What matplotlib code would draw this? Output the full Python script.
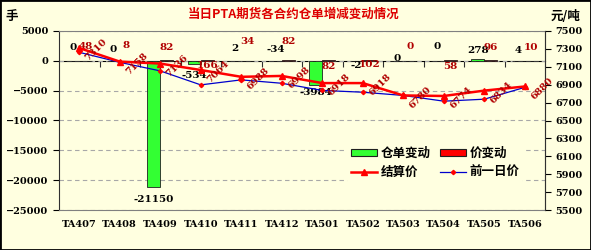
import matplotlib
matplotlib.use('Agg')
import matplotlib.pyplot as plt
from matplotlib.patches import Rectangle, Patch
from matplotlib.lines import Line2D
import numpy as np

plt.rcParams['font.family'] = ['Noto Sans CJK SC', 'DejaVu Sans']

contracts = ['TA407', 'TA408', 'TA409', 'TA410', 'TA411', 'TA412',
             'TA501', 'TA502', 'TA503', 'TA504', 'TA505', 'TA506']
stock_change = [0, 0, -21150, -534, 2, -34, -3984, -2, 0, 0, 278, 4]
price_change = [48, 8, 82, 166, 34, 82, 82, 102, 0, 58, 96, 10]
settle = [7310, 7158, 7136, 7064, 6988, 6998, 6918, 6918, 6780, 6774, 6834, 6880]
prev = [7262, 7150, 7054, 6898, 6954, 6916, 6836, 6816, 6780, 6716, 6738, 6870]

# label vertical offsets in pixels (style only)
stock_lbl_dy = [13, 11, -12, -11, 12, 12, -8, -5, 2, 14, 9, 10]
price_lbl_dy = [14, 15, 13, -6, 19, 19, -6, -4, 14, -6, 13, 13]

title = '当日PTA期货各合约仓单增减变动情况'
bg = '#FFFFE0'
green = '#33FF33'
red = '#FF0000'
dark_red = '#B00000'
num_font = ['DejaVu Serif']

fig = plt.figure(figsize=(5.91, 2.5), dpi=100, facecolor=bg)
ax = fig.add_axes([59 / 591, 40 / 250, (545 - 59) / 591, (210 - 31) / 250])
ax.set_facecolor(bg)

x = np.arange(len(contracts))
w = 0.32
ax.bar(x - w / 2, stock_change, w, color=green, edgecolor='#202020', linewidth=0.6, zorder=3)
ax.bar(x + w / 2, price_change, w, color=red, edgecolor='#202020', linewidth=0.6, zorder=3)

ax.set_xlim(-0.5, len(contracts) - 0.5)
ax.set_ylim(-25000, 5000)
ax.set_yticks(np.arange(-25000, 5001, 5000))
ax.yaxis.grid(True, linestyle=(0, (4, 3)), color='#A8A8A8', linewidth=0.8)
ax.set_axisbelow(True)
ax.set_xticks(x, contracts)
ax.tick_params(axis='x', length=0, pad=7)
ax.tick_params(axis='y', direction='out', length=4, width=0.8)
for lab in ax.get_xticklabels() + ax.get_yticklabels():
    lab.set_fontfamily(num_font)
    lab.set_fontweight('bold')
    lab.set_fontsize(7)
for s in ax.spines.values():
    s.set_color('#808080')
    s.set_linewidth(0.8)
ax.spines['left'].set_color('#303030')

# zero axis with category boundary ticks
zero_frac = (0 - (-25000)) / 30000
sec = ax.secondary_xaxis(zero_frac)
sec.set_xticks(np.arange(0.5, len(contracts) - 0.5, 1.0))
sec.tick_params(direction='in', length=4, width=0.8, labelbottom=False, labeltop=False, color='#303030')
sec.spines['bottom'].set_color('#303030')
sec.spines['bottom'].set_linewidth(1.0)

for i, v in enumerate(stock_change):
    ax.annotate(str(v), xy=(x[i] - w / 2, v), xytext=(0, stock_lbl_dy[i]),
                textcoords='offset pixels', ha='center', va='center',
                fontsize=7.5, fontweight='bold', family=num_font, color='black', zorder=6)
for i, v in enumerate(price_change):
    ax.annotate(str(v), xy=(x[i] + w / 2, v), xytext=(0, price_lbl_dy[i]),
                textcoords='offset pixels', ha='center', va='center',
                fontsize=7.5, fontweight='bold', family=num_font, color=dark_red, zorder=6)

ax2 = ax.twinx()
ax2.set_ylim(5500, 7500)
ax2.set_yticks(np.arange(5500, 7501, 200))
ax2.tick_params(axis='y', direction='out', length=4, width=0.8)
for lab in ax2.get_yticklabels():
    lab.set_fontfamily(num_font)
    lab.set_fontweight('bold')
    lab.set_fontsize(7)
for s in ax2.spines.values():
    s.set_visible(False)
ax2.spines['right'].set_visible(True)
ax2.spines['right'].set_color('#303030')
ax2.spines['right'].set_linewidth(0.8)

ax2.plot(x, prev, color='#0000CC', linewidth=0.9, marker='D', markersize=2.2,
         markerfacecolor=red, markeredgecolor=red, zorder=4)
ax2.plot(x, settle, color=red, linewidth=1.8, marker='^', markersize=5,
         markerfacecolor=red, markeredgecolor=red, zorder=5)
for i, s in enumerate(settle):
    ax2.annotate(str(s), xy=(x[i], s), xytext=(17, -2), textcoords='offset pixels',
                 rotation=45, ha='center', va='center', fontsize=7, fontweight='bold',
                 family=num_font, color=dark_red, zorder=7)

h_stock = Patch(facecolor=green, edgecolor='#202020', linewidth=0.8, label='仓单变动')
h_price = Patch(facecolor=red, edgecolor='#202020', linewidth=0.8, label='价变动')
h_settle = Line2D([], [], color=red, linewidth=1.8, marker='^', markersize=4, label='结算价')
h_prev = Line2D([], [], color='#0000CC', linewidth=0.9, marker='D', markersize=2.2,
                markerfacecolor=red, markeredgecolor=red, label='前一日价')
handles = [h_stock, h_settle, h_price, h_prev]
leg = ax2.legend(handles=handles, ncol=2, loc='center', bbox_to_anchor=(0.774, 0.263),
                 frameon=True, facecolor=bg, edgecolor='none', framealpha=1,
                 prop={'family': ['Noto Sans CJK SC'], 'weight': 'bold', 'size': 9},
                 handlelength=2.1, handleheight=0.5, handletextpad=0.3,
                 columnspacing=0.7, labelspacing=0.5, borderpad=0.3)
leg.set_zorder(10)

fig.text(0.497, 1 - 14 / 250, title, ha='center', va='center', color='#DD0000',
         fontsize=9, fontweight='bold')
fig.text(12 / 591, 1 - 16 / 250, '手', ha='center', va='center', fontsize=9, fontweight='bold')
fig.text(566 / 591, 1 - 16 / 250, '元/吨', ha='center', va='center', fontsize=9, fontweight='bold')

fig.patches.append(Rectangle((0, 0), 1, 1, transform=fig.transFigure, fill=False,
                             edgecolor='black', linewidth=2))

fig.savefig('out.png', dpi=100, facecolor=bg)
